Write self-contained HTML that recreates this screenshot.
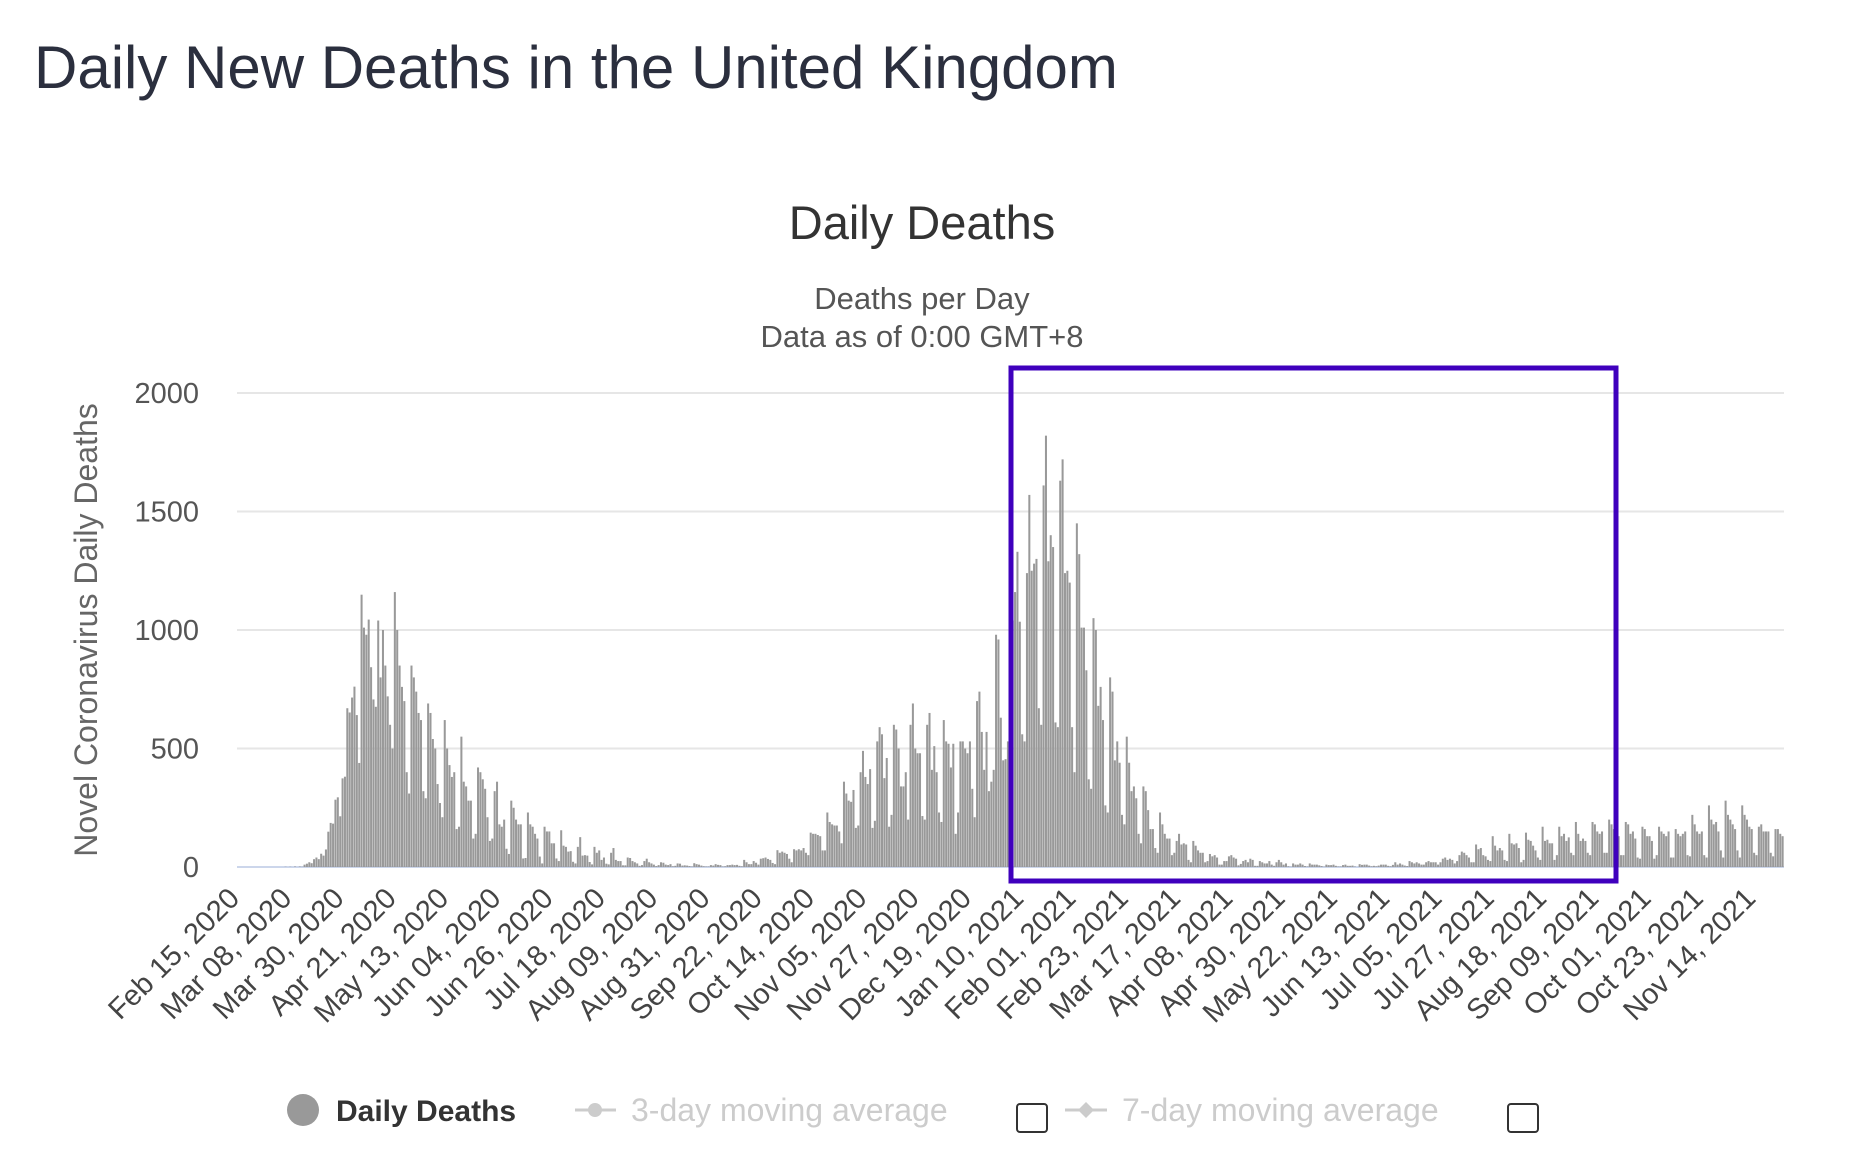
<!DOCTYPE html>
<html><head><meta charset="utf-8"><style>
html,body{margin:0;padding:0;background:#fff;width:1876px;height:1171px;overflow:hidden;font-family:"Liberation Sans",sans-serif}
svg{position:absolute;left:0;top:0}
</style></head><body>
<svg id="chart" width="1876" height="1171" viewBox="0 0 1876 1171">
<text x="34" y="88" font-size="60" fill="#2b2f3e">Daily New Deaths in the United Kingdom</text>
<text x="922" y="239" font-size="47" fill="#333" text-anchor="middle">Daily Deaths</text>
<text x="922" y="309" font-size="31" fill="#555" text-anchor="middle">Deaths per Day</text>
<text x="922" y="347" font-size="31" fill="#555" text-anchor="middle">Data as of 0:00 GMT+8</text>
<text transform="translate(97,630) rotate(-90)" font-size="32" fill="#666" text-anchor="middle">Novel Coronavirus Daily Deaths</text>
<g id="grid"></g><g id="bars"></g><g id="xlabels"></g>
<rect x="1011" y="368" width="605" height="513" fill="none" stroke="#3f00bd" stroke-width="5"/>
<g>
<circle cx="303" cy="1110" r="16" fill="#999"/>
<text x="336" y="1121" font-size="30" font-weight="bold" fill="#333">Daily Deaths</text>
<line x1="575" y1="1110" x2="616" y2="1110" stroke="#ccc" stroke-width="3"/>
<circle cx="595" cy="1110" r="7" fill="#ccc"/>
<text x="631" y="1121" font-size="32" fill="#ccc">3-day moving average</text>
<rect x="1017" y="1104" width="30" height="28" rx="3" fill="#fff" stroke="#333" stroke-width="2"/>
<line x1="1065" y1="1110" x2="1107" y2="1110" stroke="#ccc" stroke-width="3"/>
<path d="M1086 1102 L1094 1110 L1086 1118 L1078 1110 Z" fill="#ccc"/>
<text x="1122" y="1121" font-size="32" fill="#ccc">7-day moving average</text>
<rect x="1508" y="1104" width="30" height="28" rx="3" fill="#fff" stroke="#333" stroke-width="2"/>
</g>
</svg>
<script>
const yTicks=[0,500,1000,1500,2000];
const tickLabels=["Feb 15, 2020","Mar 08, 2020","Mar 30, 2020","Apr 21, 2020","May 13, 2020","Jun 04, 2020","Jun 26, 2020","Jul 18, 2020","Aug 09, 2020","Aug 31, 2020","Sep 22, 2020","Oct 14, 2020","Nov 05, 2020","Nov 27, 2020","Dec 19, 2020","Jan 10, 2021","Feb 01, 2021","Feb 23, 2021","Mar 17, 2021","Apr 08, 2021","Apr 30, 2021","May 22, 2021","Jun 13, 2021","Jul 05, 2021","Jul 27, 2021","Aug 18, 2021","Sep 09, 2021","Oct 01, 2021","Oct 23, 2021","Nov 14, 2021"];
const tickEvery=22;
const deaths=[
0,0,0,0,0,0,0, 0,0,0,0,0,0,0, 0,0,0,0,0,0,1, 0,1,0,2,0,2,1,
10,14,20,16,33,40,33, 56,48,74,149,186,183,284, 294,214,374,381,670,652,715,
761,641,439,1149,1010,980,1044, 843,707,676,1040,800,1000,850, 720,600,500,1160,1000,850,760,
700,400,310,850,800,740,650, 620,320,290,690,650,540,500, 350,270,210,620,500,430,380,
400,160,170,550,360,340,280, 280,120,140,420,400,370,330, 210,110,120,320,360,180,170,
200,77,55,280,250,200,180, 180,36,38,230,180,170,140, 120,44,15,170,150,150,100,
100,36,25,155,90,85,65, 67,22,15,85,126,48,50, 48,21,11,85,60,70,30,
40,14,11,60,80,30,25, 25,7,7,40,38,25,20, 15,5,8,25,35,20,15,
10,4,8,20,18,10,8, 12,3,5,15,14,6,7, 6,4,2,16,12,10,6,
3,2,2,8,6,12,9, 8,2,3,8,8,10,8, 9,5,3,30,20,12,12,
25,18,10,35,37,40,34, 30,17,12,71,60,65,60, 55,35,20,75,70,75,70,
80,60,50,145,140,140,135, 130,70,70,230,190,180,175, 175,150,100,360,310,280,275,
325,165,175,400,490,380,350, 413,165,195,530,590,560,375, 460,170,220,600,580,500,340,
340,400,200,600,690,500,480, 480,215,200,600,650,410,510, 400,230,190,620,530,520,420,
520,140,230,530,530,500,480, 530,330,210,700,740,570,410, 570,320,360,410,980,960,630,
450,455,530,830,1040,1160,1330, 1035,560,530,1240,1570,1250,1280, 1300,670,600,1610,1820,1290,1400,
1350,610,590,1630,1720,1240,1250, 1200,590,400,1450,1320,1010,1010, 830,370,330,1050,1000,680,760,
620,260,230,800,740,450,530, 440,220,180,550,440,320,340, 290,140,100,340,320,240,160,
160,80,60,230,180,140,120, 120,50,60,110,140,95,100, 95,30,20,110,90,70,60,
60,20,25,55,45,50,40, 10,10,25,25,45,50,40, 35,7,13,25,30,20,35,
30,5,5,25,20,15,15, 25,10,5,20,30,20,10, 15,3,1,15,10,10,15,
10,4,2,15,10,10,10, 7,4,1,10,8,8,10, 5,2,2,8,10,5,5,
6,2,0,12,9,10,10, 6,3,5,3,6,10,10, 10,5,3,9,20,10,15,
10,6,4,25,20,15,20, 15,10,10,20,25,20,20, 20,10,20,35,40,30,35,
30,15,25,50,65,60,50, 40,20,20,95,75,80,50, 45,30,25,130,90,70,80,
70,30,25,140,100,95,100, 80,20,30,145,115,110,90, 70,40,30,170,110,115,100,
100,30,50,170,130,140,110, 125,60,50,190,140,110,120, 110,60,50,190,180,150,140,
150,60,60,200,180,160,150, 130,50,50,190,180,140,150, 120,40,35,170,160,130,130,
110,35,50,170,150,140,130, 150,40,40,160,140,130,140, 150,50,45,220,180,150,140,
150,50,40,260,200,180,190, 150,70,40,280,220,200,180, 160,70,40,260,220,200,170,
160,60,50,170,180,150,150, 150,60,45,160,160,140,130
];
const NS="http://www.w3.org/2000/svg";
const L=237,R=1784,T=393,B=867,YMAX=2000;
const N=deaths.length, dx=(R-L)/N;
const y=v=>B-(v/YMAX)*(B-T);
const x=i=>L+i*dx;
const grid=document.getElementById('grid');
yTicks.forEach(t=>{
  const ln=document.createElementNS(NS,'line');
  ln.setAttribute('x1',L);ln.setAttribute('x2',R);ln.setAttribute('y1',y(t));ln.setAttribute('y2',y(t));
  ln.setAttribute('stroke',t===0?'#ccd6eb':'#e6e6e6');ln.setAttribute('stroke-width',2);
  
  
  grid.appendChild(ln);
  const tx=document.createElementNS(NS,'text');
  tx.setAttribute('x',199);tx.setAttribute('y',y(t)+10);tx.setAttribute('text-anchor','end');
  tx.setAttribute('font-size','29');tx.setAttribute('fill','#555');tx.textContent=t;
  
  
  grid.appendChild(tx);
});
const bars=document.getElementById('bars');
deaths.forEach((v,i)=>{
  if(v<=0)return;
  const r=document.createElementNS(NS,'rect');
  r.setAttribute('x',x(i));r.setAttribute('width',dx*0.85);
  r.setAttribute('y',y(v));r.setAttribute('height',B-y(v));r.setAttribute('fill','#999');
  
  
  bars.appendChild(r);
});
const xl=document.getElementById('xlabels');
tickLabels.forEach((s,k)=>{
  const px=x(k*tickEvery)+4, py=900;
  const tx=document.createElementNS(NS,'text');
  tx.setAttribute('transform','translate('+px+','+py+') rotate(-45)');
  tx.setAttribute('text-anchor','end');tx.setAttribute('font-size','29');tx.setAttribute('fill','#444');
  tx.textContent=s;
  
  
  xl.appendChild(tx);
});
</script>
</body></html>
